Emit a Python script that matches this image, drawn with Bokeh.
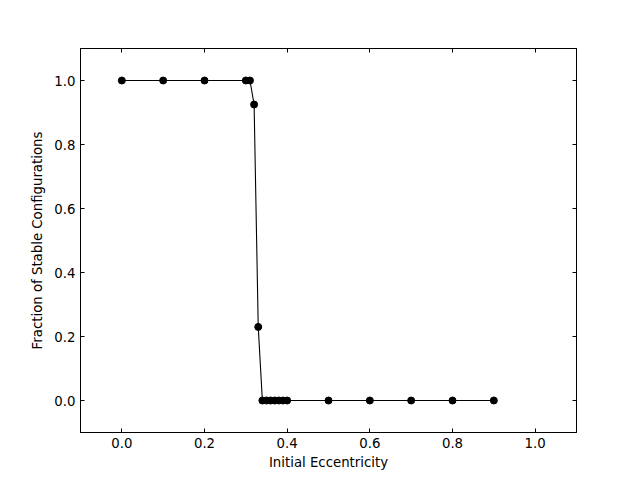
from bokeh.plotting import figure
from bokeh.models import LinearAxis, Range1d, FixedTicker, PrintfTickFormatter
from bokeh.embed import file_html
from bokeh.resources import INLINE

eccentricity = [0.0, 0.1, 0.2, 0.30, 0.31, 0.32, 0.33, 0.34, 0.35, 0.36, 0.37, 0.38, 0.39, 0.40,
                0.5, 0.6, 0.7, 0.8, 0.9]
stable_fraction = [1.0, 1.0, 1.0, 1.0, 1.0, 0.925, 0.23, 0.0, 0.0, 0.0, 0.0, 0.0, 0.0, 0.0,
                   0.0, 0.0, 0.0, 0.0, 0.0]
tick_values = [0.0, 0.2, 0.4, 0.6, 0.8, 1.0]

FONT = "DejaVu Sans"

p = figure(frame_width=496, frame_height=384,
           x_range=Range1d(-0.1, 1.1), y_range=Range1d(-0.1, 1.1),
           output_backend="svg", toolbar_location=None,
           min_border_left=80, min_border_right=64, min_border_top=48, min_border_bottom=48,
           background_fill_color="white", border_fill_color="white")
p.outline_line_color = "black"
p.outline_line_width = 1
p.grid.visible = False

p.line(eccentricity, stable_fraction, line_color="black", line_width=1.1)
p.scatter(eccentricity, stable_fraction, size=7, fill_color="black", line_color="black")

def style(ax, labels=True):
    ax.ticker = FixedTicker(ticks=tick_values)
    ax.formatter = PrintfTickFormatter(format="%.1f")
    ax.major_tick_in = 4
    ax.major_tick_out = 0
    ax.minor_tick_in = 0
    ax.minor_tick_out = 0
    ax.axis_line_color = "black"
    ax.major_tick_line_color = "black"
    ax.major_label_text_font = FONT
    ax.major_label_text_font_size = "13.3px"
    ax.major_label_text_color = "black"
    ax.axis_label_text_font = FONT
    ax.axis_label_text_font_size = "13.3px"
    ax.axis_label_text_font_style = "normal"
    ax.axis_label_text_color = "black"
    ax.major_label_standoff = 5
    ax.axis_label_standoff = 4
    if not labels:
        ax.major_label_overrides = {v: "" for v in tick_values}
        ax.major_label_standoff = 0

style(p.xaxis[0])
style(p.yaxis[0])
p.yaxis[0].axis_label_standoff = 6
p.xaxis[0].axis_label = "Initial Eccentricity"
p.yaxis[0].axis_label = "Fraction of Stable Configurations"

top = LinearAxis()
right = LinearAxis()
style(top, labels=False)
style(right, labels=False)
p.add_layout(top, "above")
p.add_layout(right, "right")

open("out.html", "w").write(file_html(p, INLINE))
